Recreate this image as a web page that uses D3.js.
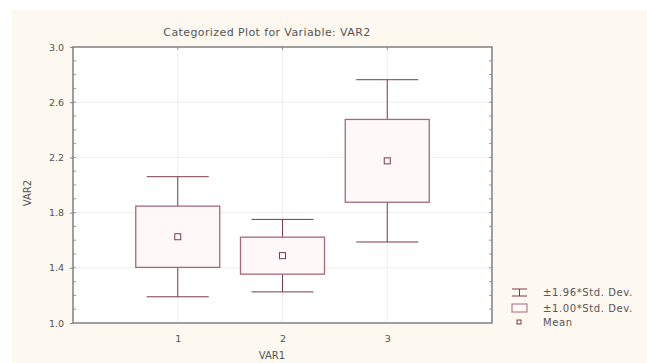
<!DOCTYPE html>
<meta charset="utf-8">
<head>
<script src="https://cdn.jsdelivr.net/npm/d3@7"></script>
<style>
  body { margin: 0; background: #fff; }
  text { font-family: "DejaVu Sans", Verdana, sans-serif; fill: #555; }
</style>
</head>
<body>
<div id="chart"></div>
<script>
// category means and standard deviations
var categories = ["1", "2", "3"];
var means = [1.625, 1.488, 2.175];
var sds = [0.222, 0.134, 0.300];
var yTicks = [1.0, 1.4, 1.8, 2.2, 2.6, 3.0];
var legendLabels = ["\u00b11.96*Std. Dev.", "\u00b11.00*Std. Dev.", "Mean"];

var width = 647, height = 363;
var pLeft = 73, pRight = 492, pTop = 47, pBottom = 323;
var stroke = "#7b3a4a";
var font = "'DejaVu Sans', Verdana, sans-serif";

var svg = d3.select("#chart").append("svg")
    .attr("width", width)
    .attr("height", height);

// cream panel
svg.append("rect")
    .attr("x", 12).attr("y", 10)
    .attr("width", width - 12).attr("height", height - 10)
    .attr("fill", "#fdf8f0");

var x = d3.scaleLinear().domain([0, 4]).range([pLeft, pRight]);
var y = d3.scaleLinear().domain([1, 3]).range([pBottom, pTop]);

svg.append("rect")
    .attr("x", pLeft).attr("y", pTop)
    .attr("width", pRight - pLeft).attr("height", pBottom - pTop)
    .attr("fill", "#fff");

// grid
svg.append("g").selectAll("line")
    .data(yTicks.slice(1, -1))
    .enter().append("line")
    .attr("x1", pLeft).attr("x2", pRight)
    .attr("y1", function(d) { return y(d); })
    .attr("y2", function(d) { return y(d); })
    .attr("stroke", "#eeeeee");

svg.append("g").selectAll("line")
    .data(categories)
    .enter().append("line")
    .attr("y1", pTop).attr("y2", pBottom)
    .attr("x1", function(d, i) { return x(i + 1); })
    .attr("x2", function(d, i) { return x(i + 1); })
    .attr("stroke", "#eeeeee");

// axes
var yAxis = d3.axisLeft(y).tickValues(yTicks).tickFormat(d3.format(".1f")).tickSize(3).tickPadding(6);
var gy = svg.append("g").attr("transform", "translate(" + pLeft + ",0)").call(yAxis);

var xAxis = d3.axisBottom(x).tickValues([1, 2, 3]).tickFormat(function(d) { return categories[d - 1]; }).tickSize(0).tickPadding(12);
var gx = svg.append("g").attr("transform", "translate(0," + pBottom + ")").call(xAxis);

[gx, gy].forEach(function(g) {
  g.select(".domain").remove();
  g.selectAll("line").attr("stroke", "#888");
  g.selectAll("text").attr("fill", "#555").style("font-size", "9.5px").style("font-family", font);
});

// minor ticks inside, left and right
var minor = d3.range(1.1, 3.0, 0.1);
svg.append("g").selectAll("line")
    .data(minor).enter().append("line")
    .attr("x1", pLeft).attr("x2", pLeft + 3)
    .attr("y1", function(d) { return y(d); })
    .attr("y2", function(d) { return y(d); })
    .attr("stroke", "#999");
svg.append("g").selectAll("line")
    .data(minor).enter().append("line")
    .attr("x1", pRight).attr("x2", pRight - 3)
    .attr("y1", function(d) { return y(d); })
    .attr("y2", function(d) { return y(d); })
    .attr("stroke", "#999");
svg.append("g").selectAll("line")
    .data(categories).enter().append("line")
    .attr("x1", function(d, i) { return x(i + 1); })
    .attr("x2", function(d, i) { return x(i + 1); })
    .attr("y1", pTop).attr("y2", pTop + 3)
    .attr("stroke", "#999");

// frame
svg.append("rect")
    .attr("x", pLeft).attr("y", pTop)
    .attr("width", pRight - pLeft).attr("height", pBottom - pTop)
    .attr("fill", "none")
    .attr("stroke", "#808080")
    .attr("stroke-width", 1.5);

// boxes
var boxW = 42, capW = 31;
var g = svg.append("g").selectAll("g")
    .data(means).enter().append("g");

g.append("line")
    .attr("x1", function(d, i) { return x(i + 1); })
    .attr("x2", function(d, i) { return x(i + 1); })
    .attr("y1", function(d, i) { return y(d + 1.96 * sds[i]); })
    .attr("y2", function(d, i) { return y(d - 1.96 * sds[i]); })
    .attr("stroke", stroke);

g.selectAll(".cap")
    .data(function(d, i) { return [[i, d + 1.96 * sds[i]], [i, d - 1.96 * sds[i]]]; })
    .enter().append("line").attr("class", "cap")
    .attr("x1", function(d) { return x(d[0] + 1) - capW; })
    .attr("x2", function(d) { return x(d[0] + 1) + capW; })
    .attr("y1", function(d) { return y(d[1]); })
    .attr("y2", function(d) { return y(d[1]); })
    .attr("stroke", stroke);

g.append("rect")
    .attr("x", function(d, i) { return x(i + 1) - boxW; })
    .attr("y", function(d, i) { return y(d + sds[i]); })
    .attr("width", boxW * 2)
    .attr("height", function(d, i) { return y(d - sds[i]) - y(d + sds[i]); })
    .attr("fill", "#fff8f9")
    .attr("stroke", "#a8697a")
    .attr("stroke-width", 1.3);

g.append("rect")
    .attr("x", function(d, i) { return x(i + 1) - 3; })
    .attr("y", function(d) { return y(d) - 3; })
    .attr("width", 6).attr("height", 6)
    .attr("fill", "none")
    .attr("stroke", stroke);

// titles
svg.append("text")
    .attr("x", 267).attr("y", 36)
    .attr("text-anchor", "middle")
    .style("font-size", "11px")
    .style("letter-spacing", "0.4px")
    .text("Categorized Plot for Variable: VAR2");

svg.append("text")
    .attr("transform", "translate(31,193) rotate(-90)")
    .attr("text-anchor", "middle")
    .style("font-size", "10px")
    .text("VAR2");

svg.append("text")
    .attr("x", 272).attr("y", 359)
    .attr("text-anchor", "middle")
    .style("font-size", "10px")
    .text("VAR1");

// legend
var lx = 512, ly = [293, 309, 323];
var leg = svg.append("g");
leg.append("line").attr("x1", lx).attr("x2", lx + 15).attr("y1", ly[0] - 4).attr("y2", ly[0] - 4).attr("stroke", stroke);
leg.append("line").attr("x1", lx).attr("x2", lx + 15).attr("y1", ly[0] + 3).attr("y2", ly[0] + 3).attr("stroke", stroke);
leg.append("line").attr("x1", lx + 7.5).attr("x2", lx + 7.5).attr("y1", ly[0] - 4).attr("y2", ly[0] + 3).attr("stroke", stroke);
leg.append("rect").attr("x", lx).attr("y", ly[1] - 5).attr("width", 15).attr("height", 8)
    .attr("fill", "#fff8f9").attr("stroke", "#a8697a");
leg.append("rect").attr("x", lx + 5).attr("y", ly[2] - 3).attr("width", 4).attr("height", 4)
    .attr("fill", "none").attr("stroke", stroke);
leg.selectAll("text").data(legendLabels).enter().append("text")
    .attr("x", 543)
    .attr("y", function(d, i) { return ly[i] + 3; })
    .style("font-size", "10px")
    .style("letter-spacing", "0.6px")
    .text(function(d) { return d; });
</script>
</body>
